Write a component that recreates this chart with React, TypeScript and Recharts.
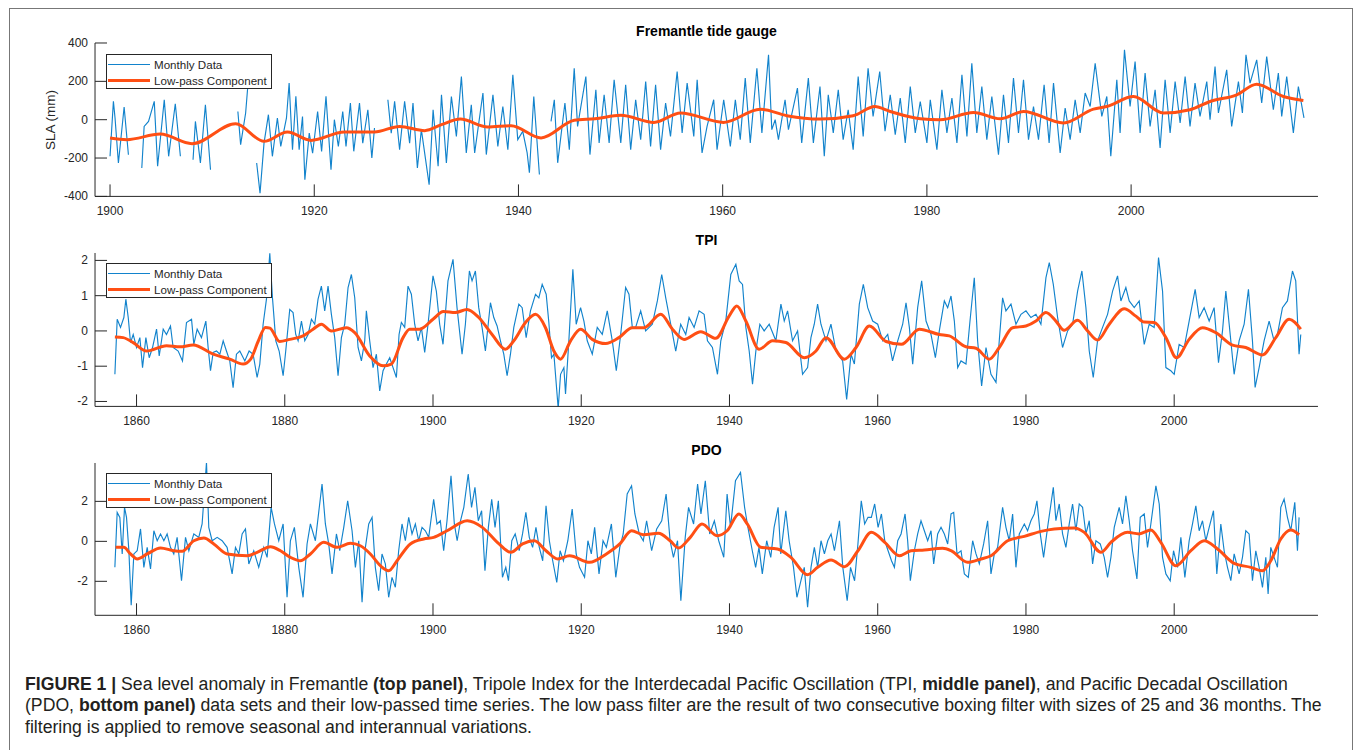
import React from 'react';
import { LineChart, Line, XAxis, YAxis } from 'recharts';

const BLUE = '#1283cc';
const RED = '#ff4f14';
const AXIS = '#262626';
const FONT = '"Liberation Sans", Arial, Helvetica, sans-serif';

// ---------- Tick labels ----------
const slaXTicks = [1900, 1920, 1940, 1960, 1980, 2000];
const slaYTicks = [-400, -200, 0, 200, 400];
const indexXTicks = [1860, 1880, 1900, 1920, 1940, 1960, 1980, 2000];
const tpiYTicks = [-2, -1, 0, 1, 2];
const pdoYTicks = [-2, 0, 2];

// ---------- Fremantle SLA (mm), [year, value] ----------
const slaMonthly = [
  [1900.0,-191],[1900.33,96],[1900.49,9],[1900.82,-226],[1901.38,66],[1901.8,-183],[1902.3,null],
  [1903.11,-252],[1903.34,-35],[1903.77,-9],[1904.33,96],[1904.66,-243],[1905.31,104],[1905.74,-191],[1906.39,83],[1906.89,-191],[1907.4,null],
  [1908.13,-209],[1908.36,-9],[1908.85,-226],[1909.34,78],[1909.84,-261],[1911,null],
  [1912.52,43],[1912.79,-130],[1913.28,35],[1913.5,180],[1914,null],
  [1914.36,-226],[1914.69,-383],[1915.08,-122],[1915.51,26],[1915.9,-191],[1916.39,9],[1916.72,-139],[1917.28,9],[1917.54,191],[1917.87,-157],[1918.2,122],[1918.52,-157],[1918.85,17],[1919.08,-313],[1919.51,-70],[1919.84,-174],
  [1920.33,43],[1920.72,-165],[1921.15,122],[1921.64,-261],[1921.97,0],[1922.36,-139],[1922.79,43],[1923.11,-139],[1923.54,87],[1923.87,-165],[1924.43,87],[1924.75,-122],[1925.25,52],[1925.64,-200],[1925.9,-43],[1926.5,null],
  [1927.21,104],[1927.54,-70],[1927.87,96],[1928.36,-157],[1928.85,96],[1929.34,-122],[1929.67,87],[1930.1,-252],[1930.49,-52],[1931.25,-339],[1931.64,52],[1932.13,-243],[1932.46,130],[1932.94,-225],[1933.43,121],[1933.92,-87],[1934.41,225],[1934.89,-173],[1935.38,78],[1935.71,-173],[1936.52,139],[1936.85,-182],[1937.5,130],[1937.98,-139],[1938.47,69],[1938.96,-156],[1939.45,234],[1939.93,-104],
  [1940.42,-61],[1940.85,-173],[1941.07,-277],[1941.5,121],[1942.05,-286],[1942.6,null],
  [1943.19,-9],[1943.51,104],[1943.84,-225],[1944.55,87],[1944.98,-156],[1945.46,268],[1945.79,-35],[1946.6,225],[1947.0,-182],[1947.58,156],[1947.9,-121],[1948.39,130],[1948.88,-121],[1949.37,208],[1950.02,-121],[1950.5,182],[1950.99,-156],[1951.48,104],[1951.97,-104],[1952.46,199],[1952.94,-139],[1953.43,182],[1953.92,-156],[1954.41,87],[1954.89,-87],[1955.54,251],[1956.03,-69],[1956.52,191],[1957.17,-87],[1957.5,208],[1957.98,-173],[1958.47,-35],[1959.12,104],[1959.45,-156],
  [1960.1,104],[1960.75,-139],[1961.24,104],[1961.72,-104],[1962.21,217],[1962.7,-121],[1963.35,268],[1963.84,-69],[1964.49,338],[1964.81,-52],[1965.14,0],[1965.46,-104],[1966.11,104],[1966.44,-52],[1967.32,165],[1967.74,-121],[1968.39,217],[1968.88,-121],[1969.53,173],[1969.95,-191],[1970.34,130],[1970.83,-69],[1971.32,156],[1971.8,-104],[1972.29,52],[1972.78,-156],[1973.27,225],[1973.76,-87],[1974.24,268],[1974.73,17],[1975.38,251],[1975.9,-60],[1976.41,130],[1976.9,-78],[1977.39,113],[1977.88,-121],[1978.37,173],[1978.86,-69],[1979.35,95],
  [1980.0,-121],[1980.33,104],[1980.98,-156],[1981.47,156],[1981.96,-69],[1982.45,113],[1982.94,-121],[1983.43,234],[1983.92,-87],[1984.4,294],[1984.89,-69],[1985.38,173],[1985.87,-104],[1986.36,121],[1987.01,-182],[1987.5,130],[1987.99,-121],[1988.48,217],[1988.97,-69],[1989.46,208],[1989.95,-104],[1990.44,69],[1990.93,-104],[1991.48,182],[1991.97,-121],[1992.4,191],[1993.05,-173],[1993.54,61],[1994.03,-104],[1994.52,104],[1995.01,-69],[1995.5,139],[1995.99,69],[1996.48,294],[1997.13,17],[1997.62,121],[1998.01,-191],[1998.6,208],[1998.92,-69],[1999.35,364],[1999.9,69],
  [2000.39,303],[2000.88,-69],[2001.37,243],[2001.86,-35],[2002.35,156],[2002.84,-147],[2003.33,208],[2003.82,-69],[2004.31,199],[2004.8,-17],[2005.29,225],[2005.77,-35],[2006.26,191],[2006.75,17],[2007.41,199],[2007.73,0],[2008.22,277],[2008.55,35],[2009.36,260],[2009.85,-35],[2010.51,199],[2010.9,35],[2011.25,338],[2011.65,191],[2012.3,312],[2012.79,87],[2013.28,329],[2013.93,52],[2014.42,243],[2014.75,17],[2015.24,225],[2015.89,-69],[2016.38,173],[2016.87,26],[2016.93,9],
];
const slaLowpass = [
  [1900,-96],[1901.64,-104],[1904.92,-75],[1908.03,-125],[1912.3,-21],[1915.08,-113],[1917.38,-64],[1919.67,-108],[1922.95,-64],[1925.9,-64],[1928.36,-35],[1930.82,-57],[1932.46,-26],[1934.3,3],[1937.0,-38],[1939.28,-31],[1942.21,-95],[1945.46,-3],[1947.5,5],[1950.02,23],[1953.27,-14],[1955.87,35],[1960.1,-14],[1963.67,55],[1966.28,21],[1969.53,3],[1972.78,21],[1974.9,69],[1976.41,43],[1979.35,5],[1981.3,0],[1984.57,38],[1987.18,5],[1989.46,43],[1993.38,-17],[1996.31,55],[1997.62,69],[2000.23,121],[2003.16,35],[2005.77,52],[2007.73,95],[2010.34,130],[2012.3,185],[2014.91,121],[2016.87,100],
];

// ---------- TPI, [year, value] ----------
const tpiMonthly = [
  [1857.08,-1.23],[1857.39,0.33],[1857.84,0.1],[1858.29,0.38],[1858.56,0.9],[1858.88,0.38],[1859.19,-0.33],[1859.55,-0.1],[1860.0,-0.47],[1860.45,-0.19],[1860.81,-1.04],[1861.26,-0.19],[1861.71,-0.76],[1862.16,-0.47],[1862.7,0.05],[1863.06,-0.71],[1863.6,0.05],[1864.04,-0.1],[1864.58,0.14],[1864.94,-0.47],[1865.62,-0.57],[1866.2,-0.85],[1866.74,0.24],[1867.42,0.33],[1867.73,-0.38],[1868.18,0.05],[1868.76,-0.19],[1869.35,0.28],[1869.66,-0.47],[1869.98,-1.13],
  [1870.34,-0.61],[1870.79,-0.57],[1871.24,-0.66],[1871.69,-0.28],[1872.13,-0.57],[1872.58,-0.85],[1873.03,-1.61],[1873.48,-0.66],[1873.93,-0.57],[1874.61,-0.85],[1875.19,-0.57],[1875.73,-0.66],[1876.27,-1.32],[1876.63,-0.94],[1877.08,0.19],[1877.53,0.9],[1877.98,2.2],[1878.34,0.94],[1878.79,-0.28],[1879.24,-0.57],[1879.78,-1.27],
  [1880.13,-0.57],[1880.67,0.61],[1881.12,0.52],[1881.48,-0.1],[1881.8,-0.28],[1882.25,0.28],[1882.7,-0.28],[1883.15,-0.1],[1883.6,0.33],[1884.04,0.19],[1884.49,0.9],[1884.94,1.27],[1885.39,0.57],[1885.84,1.27],[1886.29,0.47],[1886.74,-0.19],[1887.19,-1.27],[1887.64,-0.19],[1888.09,0.19],[1888.54,1.23],[1888.99,1.6],[1889.44,0.94],[1889.89,-0.47],
  [1890.34,-0.85],[1890.79,-0.28],[1891.01,0.57],[1891.46,-0.28],[1891.91,-1.04],[1892.36,-0.66],[1892.81,-1.7],[1893.26,-1.13],[1893.71,-0.94],[1894.16,-0.76],[1894.61,-1.04],[1895.06,-1.32],[1895.42,-0.1],[1895.73,0.24],[1896.18,0.1],[1896.63,1.27],[1897.08,1.04],[1897.53,0.19],[1897.98,-0.28],[1898.43,0.1],[1898.88,-0.61],[1899.33,0.19],
  [1900.0,1.56],[1900.45,1.13],[1900.9,0.19],[1901.35,-0.38],[1902.02,1.42],[1902.7,2.03],[1903.24,0.66],[1903.92,-0.66],[1904.37,0.19],[1904.91,1.7],[1905.27,1.42],[1905.72,1.7],[1906.17,0.66],[1906.62,0.1],[1907.07,-0.57],[1907.75,0.8],[1908.2,0.38],[1908.65,0.14],[1909.1,-0.28],[1909.55,-0.66],
  [1910.0,-1.27],[1910.45,-0.66],[1910.9,0.1],[1911.58,0.76],[1912.03,0.66],[1912.57,-0.19],[1913.15,0.57],[1913.83,1.04],[1914.28,0.94],[1914.73,1.32],[1915.27,1.04],[1915.63,0.24],[1915.99,-0.76],[1916.31,-0.66],[1916.89,-2.2],[1917.21,-1.23],[1917.66,-1.04],[1917.88,-1.79],[1918.33,-0.28],[1918.87,1.75],[1919.32,0.19],[1919.91,0.66],
  [1920.36,0.28],[1920.81,-0.28],[1921.49,-0.66],[1922.16,0.1],[1922.84,-0.1],[1923.51,0.57],[1924.19,-0.28],[1924.73,-1.13],[1925.32,-0.1],[1925.99,1.23],[1926.44,1.04],[1926.89,0.1],[1927.34,0.1],[1928.02,0.57],[1928.69,0],[1929.59,0.19],
  [1930.27,0.85],[1930.86,1.6],[1931.4,0.94],[1932.07,0.19],[1932.75,-0.57],[1933.42,0.19],[1934.1,-0.1],[1934.55,0.38],[1935.23,0.1],[1935.9,0.57],[1936.58,0.47],[1937.03,-0.28],[1937.7,-0.47],[1938.38,-1.23],[1938.83,-0.28],[1939.5,0.28],
  [1940.18,1.6],[1940.86,1.89],[1941.31,1.42],[1941.76,1.32],[1942.21,0.1],[1942.66,-0.57],[1943.11,-1.51],[1943.56,-0.57],[1944.1,0.19],[1944.68,0],[1945.36,0.19],[1946.26,-0.28],[1946.94,0.76],[1947.39,0.28],[1947.84,0.57],[1948.51,-0.28],[1949.19,0],[1949.86,-1.23],
  [1950.54,-1.04],[1950.99,-0.19],[1951.44,0.19],[1951.89,0.76],[1952.34,0.19],[1953.02,-0.28],[1953.69,0.19],[1954.37,-0.57],[1955.27,-0.85],[1955.81,-1.94],[1956.4,-0.66],[1956.85,-0.94],[1957.52,0.76],[1958.06,1.32],[1958.65,0.66],[1959.32,0.28],
  [1960.0,0.19],[1960.68,-0.28],[1961.35,-0.1],[1962.0,-0.85],[1962.7,-0.28],[1963.37,0.19],[1963.82,0.8],[1964.27,0.1],[1964.72,-0.94],[1965.39,0.66],[1965.93,1.42],[1966.52,0.28],[1967.19,-0.1],[1967.78,-0.76],[1968.31,0],[1968.99,0.85],[1969.44,0.66],[1969.89,0.99],
  [1970.34,0.28],[1970.79,-1.04],[1971.24,-0.85],[1971.91,-0.94],[1972.45,0.28],[1973.03,1.51],[1973.48,-0.28],[1974.02,-1.56],[1974.61,-0.47],[1975.28,-1.23],[1975.96,-1.46],[1976.4,-0.28],[1976.85,0.94],[1977.3,0.57],[1977.98,0.76],[1978.65,0.19],[1979.33,0.47],
  [1980.0,0.57],[1980.67,0.38],[1981.35,0.47],[1982.02,0.19],[1982.7,1.51],[1983.15,1.94],[1983.69,1.32],[1984.27,0.38],[1984.94,-0.47],[1985.62,0],[1986.29,0.19],[1986.97,1.13],[1987.55,1.7],[1988.09,0.66],[1988.54,-0.57],[1989.08,-1.32],[1989.66,-0.28],
  [1990.34,0.1],[1991.01,0.47],[1991.69,1.13],[1992.36,1.56],[1992.81,0.85],[1993.48,1.23],[1993.93,0.85],[1994.61,0.66],[1995.28,0.85],[1995.96,-0.38],[1996.63,0.19],[1997.3,0.1],[1997.89,2.08],[1998.43,1.13],[1998.88,-1.04],[1999.55,-1.13],
  [2000.0,-1.23],[2000.67,-0.38],[2001.35,-0.47],[2002.02,0.28],[2002.83,1.18],[2003.37,0.38],[2004.04,0.66],[2004.72,0.28],[2005.39,0.66],[2005.98,-0.9],[2006.52,0],[2006.97,1.13],[2007.42,0.19],[2008.09,-1.23],[2008.76,-0.28],[2009.44,0.19],
  [2010.02,1.18],[2010.56,-0.28],[2010.92,-1.6],[2011.46,-1.04],[2012.13,-0.28],[2012.81,0.28],[2013.48,-0.28],[2013.93,-0.1],[2014.61,0.66],[2015.28,0.85],[2015.96,1.7],[2016.4,1.42],[2016.85,-0.66],[2017.08,-0.1],
];
const tpiLowpass = [
  [1857.08,-0.17],[1858.2,-0.19],[1859.55,-0.33],[1861.35,-0.57],[1864.04,-0.42],[1865.84,-0.45],[1867.64,-0.4],[1870.34,-0.66],[1872.58,-0.8],[1874.38,-0.94],[1875.4,-0.8],[1876.4,-0.3],[1877.4,0.1],[1878.0,0.08],[1879.3,-0.3],[1880.67,-0.24],[1882.47,-0.14],[1883.82,0.05],[1884.94,0.19],[1886.29,0],[1888.31,0.09],[1889.44,-0.05],[1891.46,-0.71],[1893.26,-0.99],[1894.38,-0.94],[1895.96,-0.19],[1896.85,0.05],[1898.2,0.05],
  [1900,0.33],[1901.4,0.55],[1903.02,0.52],[1904.59,0.61],[1906.17,0.38],[1907.97,-0.1],[1909.77,-0.52],[1910.9,-0.28],[1912.48,0.24],[1913.83,0.47],[1915.18,0.09],[1916.31,-0.57],[1917.21,-0.8],[1918.56,-0.28],[1919.91,0.05],[1921.49,-0.24],[1923.29,-0.36],[1925.09,-0.19],[1926.89,0.09],[1928.47,0.09],[1930.72,0.47],[1932.3,0.05],[1933.87,-0.24],[1936.13,-0.02],[1938.15,-0.21],[1939.95,0.42],[1940.99,0.71],[1942.21,0.28],[1944.01,-0.52],[1945.81,-0.28],[1947.61,-0.33],[1950.09,-0.76],[1951.67,-0.57],[1953.02,-0.19],[1955.5,-0.8],[1957.07,-0.47],[1958.87,0.14],
  [1961.13,-0.3],[1963.2,-0.38],[1965.62,0.05],[1968.31,-0.1],[1969.66,-0.14],[1971.91,-0.45],[1973.26,-0.49],[1975.06,-0.8],[1976.4,-0.47],[1978.2,0.09],[1980,0.14],[1981.35,0.28],[1982.7,0.52],[1984.04,0.28],[1985.17,0.02],[1986.97,0.3],[1988.31,0],[1989.66,-0.26],[1991.24,0.19],[1993.26,0.63],[1994.83,0.42],[1995.96,0.25],[1997.3,0.24],[1998.88,-0.19],[2000.31,-0.76],[2002.02,-0.24],[2003.82,0.09],[2005.62,-0.05],[2007.87,-0.4],[2009.66,-0.47],[2011.91,-0.68],[2013.71,-0.19],[2015.51,0.33],[2017.08,0.05],
];

// ---------- PDO, [year, value] ----------
const pdoMonthly = [
  [1857.08,-1.3],[1857.39,1.45],[1857.75,1.2],[1858.07,-0.63],[1858.38,1.7],[1858.65,1.2],[1858.97,-0.47],[1859.28,-3.2],[1859.64,-0.63],[1860.09,-0.47],[1860.54,0.62],[1860.99,-1.3],[1861.44,-0.3],[1861.89,-1.38],[1862.34,0.53],[1862.79,0.03],[1863.24,0.37],[1863.69,0.03],[1864.13,0.37],[1864.58,-0.3],[1865.03,-0.63],[1865.48,0.2],[1866.07,-1.97],[1866.61,0.2],[1867.06,-0.47],[1867.73,0.37],[1868.4,0.2],[1868.85,0.87],[1869.44,3.95],[1869.75,0.7],
  [1870.2,0.03],[1870.88,0.2],[1871.55,0.03],[1872.22,-0.3],[1872.9,-1.63],[1873.35,-0.3],[1873.8,-0.63],[1874.25,0.37],[1874.7,0.62],[1875.15,-1.13],[1875.82,-0.47],[1876.49,-1.3],[1877.17,-0.3],[1877.62,-0.8],[1878.16,1.7],[1878.61,0.87],[1879.19,0.03],[1879.78,0.87],
  [1880.31,-2.8],[1880.76,0.03],[1881.3,0.7],[1881.89,-1.3],[1882.47,-2.8],[1883.01,-0.13],[1883.46,0.87],[1884.13,0.03],[1884.58,1.45],[1885.03,2.87],[1885.48,0.87],[1885.93,-0.13],[1886.38,-1.63],[1886.97,0.37],[1887.42,-0.47],[1887.96,0.7],[1888.49,2.03],[1889.08,0.53],[1889.53,-1.3],[1889.98,0.03],
  [1890.43,-3.05],[1890.88,-0.3],[1891.33,0.87],[1891.78,1.2],[1892.22,-1.3],[1892.67,-2.47],[1893.12,-0.63],[1893.57,-1.13],[1894.02,-2.8],[1894.47,-1.8],[1894.92,-2.3],[1895.37,-0.47],[1895.82,0.87],[1896.27,0.03],[1896.72,1.2],[1897.17,0.37],[1897.62,0.87],[1898.07,0.03],[1898.52,0.7],[1898.97,0.53],[1899.42,0.2],
  [1900.09,2.1],[1900.54,0.87],[1900.99,1.03],[1901.44,-0.47],[1901.89,1.03],[1902.43,3.28],[1902.88,0.87],[1903.26,0.03],[1903.71,1.03],[1904.16,1.7],[1904.75,3.37],[1905.2,1.7],[1905.66,2.7],[1906.11,1.03],[1906.56,1.53],[1907.01,-1.47],[1907.47,0.7],[1907.92,2.1],[1908.37,0.7],[1908.82,2.03],[1909.37,-1.8],[1909.82,-1.3],
  [1910.18,-1.97],[1910.63,0.03],[1911.09,0.37],[1911.63,-0.47],[1912.08,0.37],[1912.53,1.45],[1912.99,0.2],[1913.44,-0.3],[1913.89,0.7],[1914.34,-0.3],[1914.8,-0.97],[1915.25,1.78],[1915.7,0.03],[1916.15,-0.97],[1916.7,-2.05],[1917.15,-0.47],[1917.6,-0.97],[1918.19,0.03],[1918.78,1.62],[1919.32,-0.63],[1919.77,-1.3],
  [1920.45,-1.8],[1920.9,0.03],[1921.36,-0.63],[1921.81,0.7],[1922.4,-1.63],[1922.94,0.03],[1923.39,-0.3],[1924.07,0.87],[1924.66,-1.8],[1925.2,-0.3],[1925.66,0.37],[1926.2,2.37],[1926.79,2.78],[1927.24,1.37],[1927.83,0.37],[1928.37,0.03],[1928.82,1.03],[1929.5,-0.47],
  [1930.18,0.62],[1930.86,1.03],[1931.45,2.37],[1931.99,0.03],[1932.44,-0.8],[1932.99,0.03],[1933.44,-2.97],[1934.03,0.2],[1934.48,1.7],[1935.16,0.87],[1935.7,2.87],[1936.15,1.37],[1936.74,3.03],[1937.33,0.37],[1937.96,1.03],[1938.55,0.03],[1939.23,-0.8],[1939.68,2.37],
  [1940.14,0.7],[1940.81,3.03],[1941.49,3.45],[1942.04,1.7],[1942.49,0.7],[1943.08,-0.47],[1943.53,-1.3],[1943.98,-0.3],[1944.43,-1.63],[1945.02,0.03],[1945.57,-0.8],[1946.02,0.7],[1946.56,1.7],[1946.92,-0.63],[1947.6,1.53],[1948.05,0.03],[1948.64,-1.3],[1949.1,-2.8],[1949.64,-1.97],
  [1950.09,-1.3],[1950.54,-3.3],[1951.0,-1.3],[1951.45,-0.3],[1951.9,-1.3],[1952.35,0.03],[1952.81,-0.63],[1953.26,0.03],[1953.71,0.37],[1954.16,-0.47],[1954.84,1.03],[1955.29,-1.3],[1955.88,-2.97],[1956.33,-1.3],[1956.88,-1.97],[1957.33,-0.13],[1957.78,2.03],[1958.24,0.87],[1958.69,1.2],[1959.14,1.2],[1959.59,1.87],
  [1960.05,0.7],[1960.5,1.37],[1960.95,0.03],[1961.4,-0.47],[1961.86,-0.97],[1962.25,-1.3],[1962.7,0.03],[1963.15,0.37],[1963.69,1.37],[1964.04,0.03],[1964.4,-1.97],[1964.94,-0.47],[1965.39,0.37],[1965.84,1.03],[1966.29,0.53],[1966.74,0.03],[1967.19,0.53],[1967.55,-1.13],[1968.09,0.37],[1968.54,0.7],[1968.99,0.37],[1969.44,-0.13],[1969.89,1.37],
  [1970.25,1.45],[1970.7,-0.63],[1971.24,-0.47],[1971.69,-1.63],[1972.22,-1.8],[1972.81,0.03],[1973.26,-0.63],[1973.71,-1.13],[1974.29,-0.13],[1974.83,1.03],[1975.28,-1.63],[1975.73,-0.63],[1976.18,-0.3],[1976.85,1.7],[1977.3,0.7],[1977.75,0.03],[1978.2,1.37],[1978.65,-1.3],[1979.1,0.37],[1979.78,0.87],
  [1980.22,0.53],[1980.67,1.03],[1981.12,1.37],[1981.48,2.03],[1981.93,0.37],[1982.38,-0.8],[1982.92,0.7],[1983.37,1.87],[1983.69,2.7],[1984.04,1.03],[1984.49,1.87],[1984.94,0.37],[1985.39,-0.3],[1985.84,0.87],[1986.29,1.87],[1986.74,0.53],[1987.19,1.87],[1987.64,1.7],[1988.09,0.37],[1988.54,1.03],[1988.99,-1.13],[1989.44,0.03],
  [1990.02,-0.13],[1990.56,-0.8],[1991.01,-1.8],[1991.46,-0.8],[1991.91,0.7],[1992.58,1.7],[1993.03,0.87],[1993.48,2.28],[1993.93,1.03],[1994.38,-0.47],[1994.97,-1.88],[1995.42,1.2],[1995.96,1.37],[1996.4,-0.3],[1996.85,0.87],[1997.53,2.78],[1997.98,1.87],[1998.43,-0.8],[1998.88,-1.63],[1999.46,-1.97],[1999.91,-0.47],
  [2000.45,-1.3],[2000.9,0.2],[2001.44,-1.8],[2002.02,0.03],[2002.47,0.87],[2002.92,1.78],[2003.37,0.53],[2003.82,1.03],[2004.27,0.03],[2004.72,0.7],[2005.3,1.53],[2005.75,-1.63],[2006.29,0.87],[2006.74,-0.47],[2007.19,-1.3],[2007.64,-1.97],[2008.09,-0.63],[2008.76,-1.63],[2009.21,-0.8],[2009.66,0.53],
  [2010.11,0.37],[2010.56,-1.97],[2011.01,-0.47],[2011.46,-1.3],[2011.91,-2.3],[2012.36,-0.8],[2012.67,-2.63],[2013.03,-0.3],[2013.48,-0.8],[2013.93,-1.3],[2014.38,1.7],[2014.83,2.12],[2015.28,1.2],[2015.73,0.53],[2016.27,1.95],[2016.63,-0.47],[2016.85,1.2],
];
const pdoLowpass = [
  [1857.17,-0.3],[1858.29,-0.3],[1859.19,-0.63],[1860.09,-0.88],[1861.44,-0.63],[1863.24,-0.33],[1865.03,-0.47],[1866.16,-0.5],[1867.73,0.03],[1869.08,0.17],[1870.43,-0.13],[1872.22,-0.63],[1874.92,-0.72],[1876.27,-0.55],[1878.07,-0.27],[1879.42,-0.47],[1880.76,-0.8],[1882.11,-0.97],[1883.46,-0.63],[1885.26,-0.05],[1887.06,-0.3],[1888.85,-0.1],[1890.2,-0.22],[1891.55,-0.63],[1892.9,-1.22],[1894.02,-1.47],[1895.15,-0.97],[1896.94,-0.13],[1898.74,0.12],
  [1900.09,0.2],[1901.89,0.53],[1904.62,1.03],[1906.65,0.7],[1908.91,-0.13],[1910.5,-0.55],[1912.08,-0.13],[1913.67,0.03],[1915.25,-0.47],[1916.83,-0.88],[1918.42,-0.72],[1921.13,-1.05],[1923.39,-0.63],[1925.2,-0.13],[1926.79,0.53],[1928.37,0.33],[1930.41,0.4],[1931.99,0.03],[1933.12,-0.33],[1934.71,0.2],[1936.29,0.87],[1938.33,0.28],[1939.68,0.53],[1941.27,1.37],[1942.4,0.87],[1944.21,-0.3],[1946.47,-0.38],[1948.28,-0.8],[1950.54,-1.67],[1951.9,-1.3],[1953.71,-0.93],[1955.52,-1.27],[1957.33,-0.47],[1959.14,0.45],
  [1960.95,-0.05],[1962.92,-0.72],[1964.49,-0.47],[1966.29,-0.43],[1968.76,-0.35],[1969.89,-0.47],[1972.13,-1.05],[1973.93,-0.88],[1975.28,-0.72],[1977.53,0.03],[1979.78,0.25],[1982.02,0.5],[1983.82,0.62],[1986.52,0.67],[1987.87,0.45],[1990.11,-0.55],[1991.46,-0.05],[1993.71,0.45],[1995.28,0.37],[1996.85,0.57],[1998.2,-0.05],[2000.22,-1.22],[2002.25,-0.47],[2004.04,0.03],[2005.84,-0.38],[2008.09,-1.1],[2010.34,-1.3],[2011.91,-1.47],[2013.03,-0.97],[2014.38,0.12],[2015.73,0.57],[2016.85,0.33],
];

const toRows = (arr: any[]) => arr.map(([x, y]) => ({ x, y }));

const XTick = (props: any) => {
  const { x, y, payload } = props;
  return (
    <g>
      <line x1={x} x2={x} y1={y} y2={y - 12} stroke={AXIS} strokeWidth={1} />
      <text x={x} y={y + 15} textAnchor="middle" dominantBaseline="central" fontSize={12} fontFamily={FONT} fill={AXIS}>
        {payload.value}
      </text>
    </g>
  );
};

const YTick = (props: any) => {
  const { x, y, payload } = props;
  return (
    <g>
      <line x1={x} x2={x + 12} y1={y} y2={y} stroke={AXIS} strokeWidth={1} />
      <text x={x - 7} y={y} textAnchor="end" dominantBaseline="central" fontSize={12} fontFamily={FONT} fill={AXIS}>
        {payload.value}
      </text>
    </g>
  );
};

function Panel(p: any) {
  const { top, plotH, monthly, lowpass, xDomain, xTicks, yDomain, yTicks } = p;
  return (
    <div style={{ position: 'absolute', left: 0, top }}>
      <LineChart width={1355} height={plotH + 40} margin={{ top: 10, right: 37, bottom: 0, left: 0 }}>
        <XAxis
          type="number"
          dataKey="x"
          domain={xDomain}
          ticks={xTicks}
          interval={0}
          allowDataOverflow
          height={30}
          tickSize={0}
          tickMargin={0}
          tickLine={false}
          axisLine={{ stroke: AXIS, strokeWidth: 1 }}
          tick={(t: any) => <XTick {...t} />}
        />
        <YAxis
          type="number"
          domain={yDomain}
          ticks={yTicks}
          interval={0}
          allowDataOverflow
          width={95}
          tickSize={0}
          tickMargin={0}
          tickLine={false}
          axisLine={{ stroke: AXIS, strokeWidth: 1 }}
          tick={(t: any) => <YTick {...t} />}
        />
        <Line data={toRows(monthly)} dataKey="y" type="linear" stroke={BLUE} strokeWidth={1.15} dot={false} activeDot={false} connectNulls={false} isAnimationActive={false} />
        <Line data={toRows(lowpass)} dataKey="y" type="monotone" stroke={RED} strokeWidth={3} dot={false} activeDot={false} isAnimationActive={false} />
      </LineChart>
    </div>
  );
}

function LegendBox({ top }: { top: number }) {
  return (
    <div style={{ position: 'absolute', left: 106, top, width: 166, height: 35, boxSizing: 'border-box', border: `1px solid ${AXIS}`, background: '#fff', zIndex: 5 }}>
      <svg width={164} height={33} style={{ position: 'absolute', left: 0, top: 0 }}>
        <line x1={1} x2={43} y1={9.5} y2={9.5} stroke={BLUE} strokeWidth={1.15} />
        <line x1={1} x2={43} y1={25.5} y2={25.5} stroke={RED} strokeWidth={3} />
        <text x={47} y={9.5} dominantBaseline="central" fontSize={11.6} fontFamily={FONT} fill={AXIS}>Monthly Data</text>
        <text x={47} y={25.5} dominantBaseline="central" fontSize={11.6} fontFamily={FONT} fill={AXIS}>Low-pass Component</text>
      </svg>
    </div>
  );
}

function Title({ text, cy }: { text: string; cy: number }) {
  return (
    <div style={{ position: 'absolute', left: 456.5, width: 500, top: cy - 8, height: 16, lineHeight: '16px', textAlign: 'center', fontWeight: 'bold', fontSize: 14, color: '#000', fontFamily: FONT, zIndex: 4 }}>
      {text}
    </div>
  );
}

export default function App() {
  const idxDomain = [1854.4, 2019.4];
  return (
    <div style={{ position: 'relative', width: 1355, height: 750, overflow: 'hidden', background: '#fff', fontFamily: FONT }}>
      <style>{'html,body{margin:0;padding:0;background:#fff;}'}</style>
      <div style={{ position: 'absolute', left: 9, top: 8, width: 1344, height: 780, border: '1px solid #777', boxSizing: 'border-box' }} />

      <Title text="Fremantle tide gauge" cy={30.5} />
      <Title text="TPI" cy={240} />
      <Title text="PDO" cy={449.5} />

      <Panel top={33.3} plotH={153.4} monthly={slaMonthly} lowpass={slaLowpass} xDomain={[1898.53, 2018.3]} xTicks={slaXTicks} yDomain={[-400, 400]} yTicks={slaYTicks} />
      <Panel top={243.3} plotH={153.4} monthly={tpiMonthly} lowpass={tpiLowpass} xDomain={idxDomain} xTicks={indexXTicks} yDomain={[-2.14, 2.21]} yTicks={tpiYTicks} />
      <Panel top={452.7} plotH={152.3} monthly={pdoMonthly} lowpass={pdoLowpass} xDomain={idxDomain} xTicks={indexXTicks} yDomain={[-3.7, 3.92]} yTicks={pdoYTicks} />

      <div style={{ position: 'absolute', left: 1, top: 112, width: 100, height: 16, lineHeight: '16px', textAlign: 'center', fontSize: 13.5, color: AXIS, transform: 'rotate(-90deg)', zIndex: 4 }}>
        SLA (mm)
      </div>

      <LegendBox top={54.3} />
      <LegendBox top={263.3} />
      <LegendBox top={473} />

      <div style={{ position: 'absolute', left: 25, top: 673.5, fontSize: 17.65, lineHeight: '21.5px', whiteSpace: 'nowrap', color: '#231f20', fontFamily: FONT }}>
        <div><b>FIGURE 1 |</b> Sea level anomaly in Fremantle <b>(top panel)</b>, Tripole Index for the Interdecadal Pacific Oscillation (TPI, <b>middle panel)</b>, and Pacific Decadal Oscillation</div>
        <div>(PDO, <b>bottom panel)</b> data sets and their low-passed time series. The low pass filter are the result of two consecutive boxing filter with sizes of 25 and 36 months. The</div>
        <div>filtering is applied to remove seasonal and interannual variations.</div>
      </div>
    </div>
  );
}
